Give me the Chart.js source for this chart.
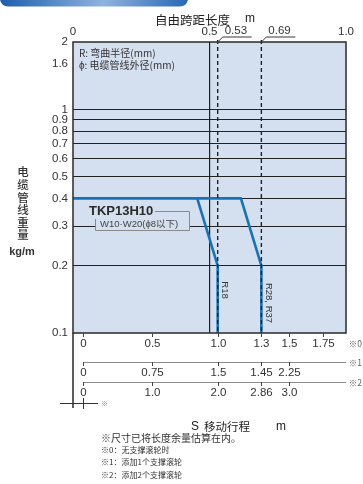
<!DOCTYPE html>
<html>
<head>
<meta charset="utf-8">
<script src="https://cdn.jsdelivr.net/npm/chart.js@4.4.1/dist/chart.umd.min.js"></script>
<style>
body{margin:0;background:#fff;}
canvas{display:block;}
</style>
</head>
<body>
<canvas id="chart" width="363" height="484"></canvas>
<script>
// free span (m) vs cable weight (kg/m)
var spanR28 = [0, 0.615, 0.69, 0.69];
var weightR28 = [0.4, 0.4, 0.2, 0.1];
var spanR18 = [0.455, 0.53, 0.53];
var weightR18 = [0.4, 0.2, 0.1];

var yTicks = [0.1, 0.2, 0.3, 0.4, 0.5, 0.6, 0.7, 0.8, 0.9, 1, 1.6, 2];
var yTickLabels = ['0.1', '0.2', '0.3', '0.4', '0.5', '0.6', '0.7', '0.8', '0.9', '1', '1.6', '2'];
var yGrid = [0.2, 0.3, 0.4, 0.5, 0.6, 0.7, 0.8, 0.9, 1];

var topTicks = [0, 0.5, 1];
var topTickLabels = ['0', '0.5', '1.0'];
var limitSpans = [0.53, 0.69];
var limitLabels = ['0.53', '0.69'];

// stroke scales under the plot, tick places read on the span scale
var strokeTickAt = [0.037, 0.288, 0.531, 0.689, 0.791, 0.914];
var stroke0 = ['0', '0.5', '1.0', '1.3', '1.5', '1.75'];
var stroke1 = ['0', '0.75', '1.5', '1.45', '2.25'];
var stroke2 = ['0', '1.0', '2.0', '2.86', '3.0'];
var strokeRowNames = ['※0', '※1', '※2'];

var seriesNames = ['R28, R37', 'R18'];
var notes = ['※0：无支撑滚轮时', '※1：添加1个支撑滚轮', '※2：添加2个支撑滚轮'];

var SANS = '"Liberation Sans", "Noto Sans CJK SC", sans-serif';
var CJK = '"Noto Sans CJK SC", sans-serif';
var BLUE = '#1772ba';

function pts(xs, ys) {
    return xs.map(function (x, i) { return {x: x, y: ys[i]}; });
}

function txt(ctx, s, x, y, font, color, align) {
    ctx.font = font;
    ctx.fillStyle = color || '#333';
    ctx.textAlign = align || 'left';
    ctx.textBaseline = 'middle';
    ctx.fillText(s, x, y);
}

var decor = {
    id: 'decor',
    beforeDraw: function (chart) {
        var ctx = chart.ctx, a = chart.chartArea;
        ctx.save();
        ctx.fillStyle = '#d4dfef';
        ctx.fillRect(a.left, a.top, a.right - a.left, a.bottom - a.top);

        // header tab
        var g = ctx.createLinearGradient(0, 0, 188, 0);
        g.addColorStop(0, '#1c5ead');
        g.addColorStop(0.55, '#8fb3df');
        g.addColorStop(1, '#2767b5');
        ctx.fillStyle = g;
        ctx.beginPath();
        ctx.moveTo(0, 0);
        ctx.lineTo(188, 0);
        ctx.quadraticCurveTo(186, 6.5, 180, 6.5);
        ctx.lineTo(8, 6.5);
        ctx.quadraticCurveTo(2, 6.5, 0, 0);
        ctx.fill();
        ctx.restore();
    },
    afterDatasetsDraw: function (chart) {
        var ctx = chart.ctx, a = chart.chartArea;
        var xs = chart.scales.x;
        ctx.save();

        // limit lines with leaders
        limitSpans.forEach(function (v, i) {
            var px = xs.getPixelForValue(v);
            ctx.strokeStyle = '#222';
            ctx.lineWidth = 1.4;
            ctx.setLineDash([4, 3]);
            ctx.beginPath();
            ctx.moveTo(px, 40);
            ctx.lineTo(px, a.bottom);
            ctx.stroke();
            ctx.setLineDash([]);
            ctx.lineWidth = 0.9;
            ctx.beginPath();
            ctx.moveTo(px + 1, 41);
            ctx.lineTo(px + 5, 37);
            ctx.lineTo(px + 34, 37);
            ctx.stroke();
            txt(ctx, limitLabels[i], px + 7, 30.5, '11.5px ' + SANS, '#333');
        });

        // plot frame
        ctx.strokeStyle = '#2a2a2a';
        ctx.lineWidth = 1.5;
        ctx.strokeRect(a.left, a.top, a.right - a.left, a.bottom - a.top);
        ctx.beginPath();
        ctx.moveTo(a.left, a.bottom);
        ctx.lineTo(a.left, 408);
        ctx.stroke();

        // series label box
        ctx.fillStyle = '#d4dfef';
        ctx.fillRect(95, 211, 94, 19);
        ctx.strokeStyle = '#8a8a8a';
        ctx.lineWidth = 1;
        ctx.beginPath();
        ctx.moveTo(155, 211.5);
        ctx.lineTo(189.5, 211.5);
        ctx.lineTo(189.5, 230.5);
        ctx.lineTo(95.5, 230.5);
        ctx.lineTo(95.5, 219);
        ctx.stroke();
        txt(ctx, 'TKP13H10', 89, 211, 'bold 13px ' + SANS, '#2a2a2a');
        txt(ctx, 'W10·W20(ϕ8以下)', 100, 224, '9.5px ' + SANS, '#444');

        txt(ctx, 'R: 弯曲半径(mm)', 79, 53, '10px ' + CJK, '#333');
        txt(ctx, 'ϕ: 电缆管线外径(mm)', 79, 65, '10px ' + CJK, '#333');

        // rotated radius labels
        [[xs.getPixelForValue(0.69) + 7, 303], [xs.getPixelForValue(0.53) + 7, 290]].forEach(function (p, i) {
            ctx.save();
            ctx.translate(p[0], p[1]);
            ctx.rotate(Math.PI / 2);
            txt(ctx, seriesNames[i], 0, 0, '9.5px ' + SANS, '#333', 'center');
            ctx.restore();
        });

        // stroke rows under the plot
        var rows = [stroke0, stroke1, stroke2];
        var lineY = [a.bottom, 362, 382];
        rows.forEach(function (labels, r) {
            var y0 = lineY[r];
            ctx.strokeStyle = r === 0 ? '#2a2a2a' : '#8a8a8a';
            ctx.lineWidth = 1;
            if (r > 0) {
                ctx.beginPath();
                ctx.moveTo(xs.getPixelForValue(strokeTickAt[0]), y0 + 0.5);
                ctx.lineTo(a.right, y0 + 0.5);
                ctx.stroke();
            }
            ctx.strokeStyle = '#444';
            labels.forEach(function (s, i) {
                var px = Math.round(xs.getPixelForValue(strokeTickAt[i])) + 0.5;
                ctx.beginPath();
                ctx.moveTo(px, y0);
                ctx.lineTo(px, y0 + 4);
                ctx.stroke();
                txt(ctx, s, px, y0 + 10.5, '11.5px ' + SANS, '#333', 'center');
            });
            txt(ctx, strokeRowNames[r], 362, y0 + (r === 0 ? 10.5 : 0.5), '8.5px ' + CJK, '#666', 'right');
        });

        // small mark at lower left
        ctx.strokeStyle = '#333';
        ctx.lineWidth = 1;
        ctx.beginPath();
        ctx.moveTo(60, 403.5);
        ctx.lineTo(98, 403.5);
        ctx.moveTo(83.5, 398);
        ctx.lineTo(83.5, 409);
        ctx.stroke();
        txt(ctx, '※', 101, 404, '7px ' + SANS, '#777');

        // axis titles
        txt(ctx, '自由跨距长度', 155, 20, '12.5px ' + CJK, '#222');
        txt(ctx, 'm', 245, 19, '12px ' + SANS, '#222');
        '电缆管线重量'.split('').forEach(function (c, i) {
            txt(ctx, c, 23, 172 + i * 12.6, '500 11.5px ' + CJK, '#333', 'center');
        });
        txt(ctx, 'kg/m', 22, 252, 'bold 11px ' + SANS, '#333', 'center');

        txt(ctx, 'S', 191, 427, '12px ' + SANS, '#222');
        txt(ctx, '移动行程', 204, 427, '11.5px ' + CJK, '#222');
        txt(ctx, 'm', 276, 427, '12px ' + SANS, '#222');

        txt(ctx, '※尺寸已将长度余量估算在内。', 101, 438, '10px ' + CJK, '#333');
        notes.forEach(function (n, i) {
            txt(ctx, n, 101, 450 + i * 12.3, '8px ' + CJK, '#333');
        });
        ctx.restore();
    }
};

var canvas = document.getElementById('chart');
var config = {
    type: 'line',
    data: {
        datasets: [
            {label: seriesNames[0], data: pts(spanR28, weightR28), borderColor: BLUE, borderWidth: 2.6, pointRadius: 0, tension: 0},
            {label: seriesNames[1], data: pts(spanR18, weightR18), borderColor: BLUE, borderWidth: 2.6, pointRadius: 0, tension: 0}
        ]
    },
    options: {
        responsive: false,
        animation: false,
        devicePixelRatio: 1,
        layout: {padding: {left: 0, right: 17, top: 0, bottom: 151}},
        plugins: {legend: {display: false}, tooltip: {enabled: false}},
        scales: {
            x: {
                type: 'linear', position: 'top', min: 0, max: 1,
                afterBuildTicks: function (s) { s.ticks = topTicks.map(function (v) { return {value: v}; }); },
                afterFit: function (s) { s.height = 42; },
                ticks: {
                    autoSkip: false, maxRotation: 0, padding: 3, color: '#333',
                    font: {family: SANS, size: 11.5},
                    callback: function (v, i) { return topTickLabels[i]; }
                },
                grid: {
                    drawTicks: false, lineWidth: 1.2,
                    color: function (c) { return c.tick && c.tick.value === 0.5 ? '#222' : 'rgba(0,0,0,0)'; }
                },
                border: {display: false}
            },
            y: {
                type: 'logarithmic', min: 0.1, max: 2,
                afterBuildTicks: function (s) { s.ticks = yTicks.map(function (v) { return {value: v}; }); },
                afterFit: function (s) { s.width = 73; },
                ticks: {
                    autoSkip: false, padding: 5, color: '#333',
                    font: {family: SANS, size: 11.5},
                    callback: function (v, i) { return yTickLabels[i]; }
                },
                grid: {
                    drawTicks: false, lineWidth: 1,
                    color: function (c) { return c.tick && yGrid.indexOf(c.tick.value) >= 0 ? '#222' : 'rgba(0,0,0,0)'; }
                },
                border: {display: false}
            }
        }
    },
    plugins: [decor]
};

var chart = new Chart(canvas, config);
</script>
</body>
</html>
